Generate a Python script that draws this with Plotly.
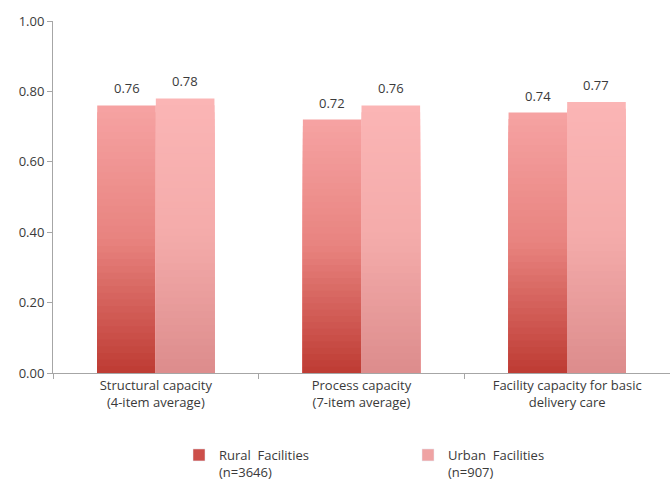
import plotly.graph_objects as go

categories = ["Structural capacity<br>(4-item average)",
              "Process capacity<br>(7-item average)",
              "Facility capacity for basic<br>delivery care"]
rural = [0.76, 0.72, 0.74]
urban = [0.78, 0.76, 0.77]
series_names = ["Rural  Facilities<br>(n=3646)", "Urban  Facilities<br>(n=907)"]

# gradient stops (fraction of bar height -> rgb)
rural_stops = [(0.0, (190, 59, 51)), (0.5, (232, 131, 127)), (1.0, (246, 163, 163))]
urban_stops = [(0.0, (220, 140, 140)), (0.5, (244, 171, 170)), (1.0, (251, 181, 181))]
legend_colors = ["#CC4F4A", "#EFA3A3"]

N = 40
BW = 0.285
FONT = "Open Sans, sans-serif"
FS = 13
TXT = "#3A3A3A"
W, H = 670, 480
X0 = 53
CAT_PX = (W - X0) / 3.0


def interp(stops, t):
    for (t0, c0), (t1, c1) in zip(stops[:-1], stops[1:]):
        if t <= t1:
            f = (t - t0) / (t1 - t0) if t1 > t0 else 0
            c = [round(a + (b - a) * f) for a, b in zip(c0, c1)]
            return "rgb(%d,%d,%d)" % tuple(c)
    return "rgb(%d,%d,%d)" % stops[-1][1]


fig = go.Figure()
for vals, stops, off in [(rural, rural_stops, -BW), (urban, urban_stops, 0.0)]:
    for k in range(N):
        frac = (N - k) / N
        tmid = (N - k - 0.5) / N
        fig.add_trace(go.Bar(
            x=categories, y=[v * frac for v in vals],
            offset=off, width=BW,
            marker=dict(color=interp(stops, tmid), line=dict(width=0)),
            showlegend=False, hoverinfo="skip",
        ))
    for c, v in zip(categories, vals):
        fig.add_annotation(x=c, y=v, text=f"{v:.2f}", showarrow=False,
                           xshift=(off + BW / 2) * CAT_PX, yshift=6, yanchor="bottom",
                           font=dict(size=FS, color=TXT, family=FONT))

for name, col in zip(series_names, legend_colors):
    fig.add_trace(go.Bar(x=[categories[0]], y=[None], name=name,
                         marker=dict(color=col), showlegend=True))

fig.update_layout(
    width=W, height=H,
    barmode="overlay",
    plot_bgcolor="white", paper_bgcolor="white",
    margin=dict(l=0, r=0, t=0, b=0, autoexpand=False),
    font=dict(family=FONT, size=FS, color=TXT),
    legend=dict(orientation="h", x=179 / W, xanchor="left", y=1 - 440 / H, yanchor="top",
                valign="top", entrywidth=184, font=dict(size=FS, color=TXT),
                itemclick=False, tracegroupgap=0),
)
fig.update_yaxes(domain=[107 / H, 1 - 21 / H], range=[0, 1.0], dtick=0.2, tickformat=".2f",
                 showgrid=False, automargin=False,
                 showline=True, linecolor="#A6A6A6", linewidth=1,
                 ticks="outside", ticklen=5, tickcolor="#A6A6A6",
                 zeroline=False, tickfont=dict(size=FS, color=TXT))
fig.update_xaxes(domain=[X0 / W, 1.0], automargin=False,
                 showline=True, linecolor="#A6A6A6", linewidth=1,
                 ticks="outside", tickson="boundaries", ticklen=5, tickcolor="#A6A6A6",
                 tickfont=dict(size=FS, color=TXT), range=[-0.5, 2.5])

fig.write_html("out.html", config={"displayModeBar": False},
               post_script="document.body.style.margin='0px';")
